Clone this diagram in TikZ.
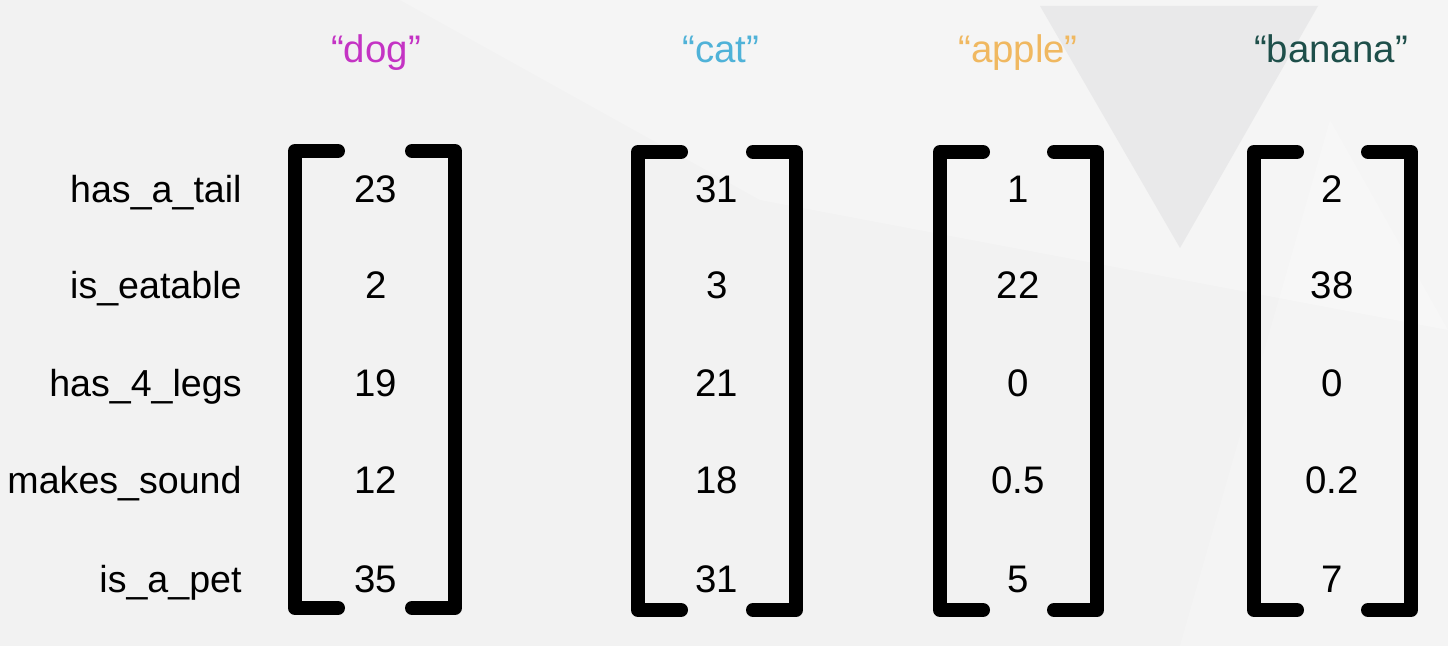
\documentclass[tikz,border=0pt]{standalone}
\usepackage{fontspec}
\setmainfont{Liberation Sans}
\definecolor{bgcol}{HTML}{F2F2F2}
\definecolor{tricol}{HTML}{E9E9EA}
\definecolor{dogcol}{HTML}{C433C4}
\definecolor{catcol}{HTML}{4FB2D8}
\definecolor{applecol}{HTML}{F0B860}
\definecolor{bananacol}{HTML}{1E4F4A}

\begin{document}
\begin{tikzpicture}[x = .5pt, y = -.5pt,
  brk/.style = {line width = 7pt, line cap = round, line join = round},
  lbl/.style = {anchor = base east, inner sep = 0pt, font = \fontsize{18.8}{22}\selectfont},
  val/.style = {anchor = base, inner sep = 0pt, font = \fontsize{19.2}{22}\selectfont},
  ttl/.style = {anchor = base, inner sep = 0pt, font = \fontsize{19.2}{22}\selectfont}]
\useasboundingbox (0,0) rectangle (1448,646);
\fill[bgcol] (0,0) rectangle (1448,646);
\fill[white, opacity = .25] (400,0) -- (1448,0) -- (1448,330) -- (760,200) -- cycle;
\fill[tricol] (1040,6) -- (1318,6) -- (1180,248) -- cycle;
\fill[white, opacity = .2] (1330,120) -- (1448,330) -- (1448,646) -- (1180,646) -- cycle;

% row labels
\node[lbl] (tail) at (242, 203) {has\_a\_tail};
\node[lbl] (eat) at (242, 299) {is\_eatable};
\node[lbl] (legs) at (242, 397) {has\_4\_legs};
\node[lbl] (sound) at (242, 494) {makes\_sound};
\node[lbl] (pet) at (242, 593) {is\_a\_pet};

% titles
\node[ttl, text = dogcol] (dog) at (376, 63) {“dog”};
\node[ttl, text = catcol] (cat) at (721, 63) {“cat”};
\node[ttl, text = applecol] (apple) at (1018, 63) {“apple”};
\node[ttl, text = bananacol] (banana) at (1331, 63) {“banana”};

% dog
\draw[brk] (338, 151) -- (295, 151) -- (295, 608) -- (338, 608);
\draw[brk] (412, 151) -- (455, 151) -- (455, 608) -- (412, 608);
\node[val] (dog1) at (376, 203) {23};
\node[val] (dog2) at (376, 299) {2};
\node[val] (dog3) at (376, 397) {19};
\node[val] (dog4) at (376, 494) {12};
\node[val] (dog5) at (376, 593) {35};

% cat
\draw[brk] (681, 152) -- (638, 152) -- (638, 610) -- (681, 610);
\draw[brk] (753, 152) -- (796, 152) -- (796, 610) -- (753, 610);
\node[val] (cat1) at (717, 203) {31};
\node[val] (cat2) at (717, 299) {3};
\node[val] (cat3) at (717, 397) {21};
\node[val] (cat4) at (717, 494) {18};
\node[val] (cat5) at (717, 593) {31};

% apple
\draw[brk] (983, 152) -- (940, 152) -- (940, 610) -- (983, 610);
\draw[brk] (1054, 152) -- (1097, 152) -- (1097, 610) -- (1054, 610);
\node[val] (apple1) at (1018, 203) {1};
\node[val] (apple2) at (1018, 299) {22};
\node[val] (apple3) at (1018, 397) {0};
\node[val] (apple4) at (1018, 494) {0.5};
\node[val] (apple5) at (1018, 593) {5};

% banana
\draw[brk] (1297, 152) -- (1254, 152) -- (1254, 610) -- (1297, 610);
\draw[brk] (1368, 152) -- (1411, 152) -- (1411, 610) -- (1368, 610);
\node[val] (banana1) at (1332, 203) {2};
\node[val] (banana2) at (1332, 299) {38};
\node[val] (banana3) at (1332, 397) {0};
\node[val] (banana4) at (1332, 494) {0.2};
\node[val] (banana5) at (1332, 593) {7};
\end{tikzpicture}
\end{document}
